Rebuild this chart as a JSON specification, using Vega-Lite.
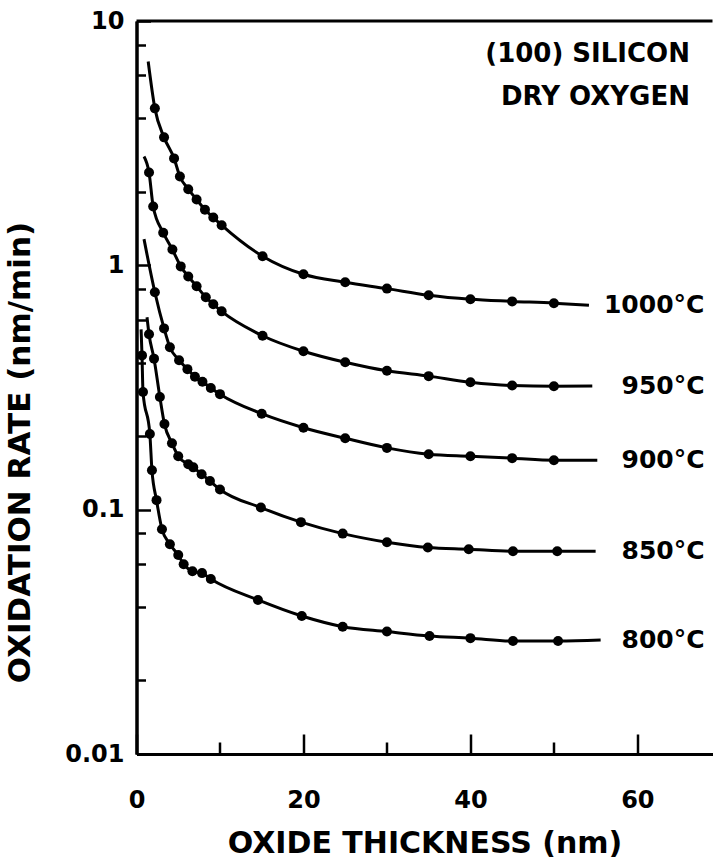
{
  "$schema": "https://vega.github.io/schema/vega-lite/v6.json",
  "width": 576,
  "height": 733,
  "autosize": {"type": "none"},
  "padding": {"left": 136.5, "top": 21, "right": 0, "bottom": 111},
  "background": "white",
  "config": {
    "view": {"stroke": null},
    "axis": {
      "grid": false,
      "domainColor": "black",
      "domainWidth": 3,
      "tickColor": "black",
      "tickWidth": 2.5,
      "labelColor": "black",
      "titleColor": "black",
      "labelFont": "DejaVu Sans",
      "titleFont": "DejaVu Sans",
      "labelFontWeight": "bold",
      "titleFontWeight": "bold",
      "labelFlush": false,
      "labelOverlap": false
    }
  },
  "datasets": {
    "curves": [
      {"T": "1000", "x": 1.4, "r": 6.83, "dot": 0},
      {"T": "1000", "x": 2.2, "r": 4.39, "dot": 1},
      {"T": "1000", "x": 3.3, "r": 3.34, "dot": 1},
      {"T": "1000", "x": 4.5, "r": 2.74, "dot": 1},
      {"T": "1000", "x": 5.2, "r": 2.31, "dot": 1},
      {"T": "1000", "x": 6.2, "r": 2.05, "dot": 1},
      {"T": "1000", "x": 7.2, "r": 1.86, "dot": 1},
      {"T": "1000", "x": 8.2, "r": 1.69, "dot": 1},
      {"T": "1000", "x": 9.2, "r": 1.57, "dot": 1},
      {"T": "1000", "x": 10.2, "r": 1.46, "dot": 1},
      {"T": "1000", "x": 15.1, "r": 1.09, "dot": 1},
      {"T": "1000", "x": 20, "r": 0.919, "dot": 1},
      {"T": "1000", "x": 25, "r": 0.852, "dot": 1},
      {"T": "1000", "x": 30, "r": 0.803, "dot": 1},
      {"T": "1000", "x": 35, "r": 0.754, "dot": 1},
      {"T": "1000", "x": 40, "r": 0.726, "dot": 1},
      {"T": "1000", "x": 45, "r": 0.712, "dot": 1},
      {"T": "1000", "x": 50, "r": 0.70, "dot": 1},
      {"T": "1000", "x": 54.2, "r": 0.686, "dot": 0},

      {"T": "950", "x": 0.9, "r": 2.79, "dot": 0},
      {"T": "950", "x": 1.5, "r": 2.40, "dot": 1},
      {"T": "950", "x": 2.0, "r": 1.74, "dot": 1},
      {"T": "950", "x": 3.2, "r": 1.36, "dot": 1},
      {"T": "950", "x": 4.3, "r": 1.16, "dot": 1},
      {"T": "950", "x": 5.3, "r": 0.99, "dot": 1},
      {"T": "950", "x": 6.2, "r": 0.90, "dot": 1},
      {"T": "950", "x": 7.2, "r": 0.821, "dot": 1},
      {"T": "950", "x": 8.3, "r": 0.740, "dot": 1},
      {"T": "950", "x": 9.2, "r": 0.693, "dot": 1},
      {"T": "950", "x": 10.2, "r": 0.648, "dot": 1},
      {"T": "950", "x": 15.1, "r": 0.515, "dot": 1},
      {"T": "950", "x": 20, "r": 0.445, "dot": 1},
      {"T": "950", "x": 25, "r": 0.401, "dot": 1},
      {"T": "950", "x": 30, "r": 0.370, "dot": 1},
      {"T": "950", "x": 35, "r": 0.352, "dot": 1},
      {"T": "950", "x": 40, "r": 0.332, "dot": 1},
      {"T": "950", "x": 45, "r": 0.322, "dot": 1},
      {"T": "950", "x": 50, "r": 0.320, "dot": 1},
      {"T": "950", "x": 54.6, "r": 0.321, "dot": 0},

      {"T": "900", "x": 0.9, "r": 1.28, "dot": 0},
      {"T": "900", "x": 2.2, "r": 0.776, "dot": 1},
      {"T": "900", "x": 3.3, "r": 0.552, "dot": 1},
      {"T": "900", "x": 4.0, "r": 0.462, "dot": 1},
      {"T": "900", "x": 5.1, "r": 0.409, "dot": 1},
      {"T": "900", "x": 6.1, "r": 0.376, "dot": 1},
      {"T": "900", "x": 7.0, "r": 0.350, "dot": 1},
      {"T": "900", "x": 7.9, "r": 0.334, "dot": 1},
      {"T": "900", "x": 8.9, "r": 0.315, "dot": 1},
      {"T": "900", "x": 10.0, "r": 0.297, "dot": 1},
      {"T": "900", "x": 15.0, "r": 0.247, "dot": 1},
      {"T": "900", "x": 20, "r": 0.2165, "dot": 1},
      {"T": "900", "x": 25, "r": 0.196, "dot": 1},
      {"T": "900", "x": 30, "r": 0.179, "dot": 1},
      {"T": "900", "x": 35, "r": 0.1686, "dot": 1},
      {"T": "900", "x": 40, "r": 0.1655, "dot": 1},
      {"T": "900", "x": 45, "r": 0.1625, "dot": 1},
      {"T": "900", "x": 50, "r": 0.1594, "dot": 1},
      {"T": "900", "x": 55.2, "r": 0.1594, "dot": 0},

      {"T": "850", "x": 1.26, "r": 0.613, "dot": 0},
      {"T": "850", "x": 1.5, "r": 0.522, "dot": 1},
      {"T": "850", "x": 2.1, "r": 0.415, "dot": 1},
      {"T": "850", "x": 2.8, "r": 0.289, "dot": 1},
      {"T": "850", "x": 3.35, "r": 0.224, "dot": 1},
      {"T": "850", "x": 4.25, "r": 0.187, "dot": 1},
      {"T": "850", "x": 5.0, "r": 0.1655, "dot": 1},
      {"T": "850", "x": 6.2, "r": 0.1535, "dot": 1},
      {"T": "850", "x": 6.8, "r": 0.149, "dot": 1},
      {"T": "850", "x": 7.8, "r": 0.1397, "dot": 1},
      {"T": "850", "x": 8.8, "r": 0.131, "dot": 1},
      {"T": "850", "x": 10.0, "r": 0.121, "dot": 1},
      {"T": "850", "x": 14.9, "r": 0.102, "dot": 1},
      {"T": "850", "x": 19.7, "r": 0.0889, "dot": 1},
      {"T": "850", "x": 24.7, "r": 0.0798, "dot": 1},
      {"T": "850", "x": 30, "r": 0.0736, "dot": 1},
      {"T": "850", "x": 34.9, "r": 0.070, "dot": 1},
      {"T": "850", "x": 39.8, "r": 0.0689, "dot": 1},
      {"T": "850", "x": 45.1, "r": 0.0676, "dot": 1},
      {"T": "850", "x": 50.4, "r": 0.0676, "dot": 1},
      {"T": "850", "x": 55, "r": 0.0676, "dot": 0},

      {"T": "800", "x": 0.55, "r": 0.547, "dot": 0},
      {"T": "800", "x": 0.66, "r": 0.428, "dot": 1},
      {"T": "800", "x": 0.78, "r": 0.303, "dot": 1},
      {"T": "800", "x": 1.6, "r": 0.204, "dot": 1},
      {"T": "800", "x": 1.85, "r": 0.145, "dot": 1},
      {"T": "800", "x": 2.4, "r": 0.1094, "dot": 1},
      {"T": "800", "x": 3.05, "r": 0.0832, "dot": 1},
      {"T": "800", "x": 4.0, "r": 0.0722, "dot": 1},
      {"T": "800", "x": 5.0, "r": 0.0652, "dot": 1},
      {"T": "800", "x": 5.65, "r": 0.0598, "dot": 1},
      {"T": "800", "x": 6.7, "r": 0.056, "dot": 1},
      {"T": "800", "x": 7.85, "r": 0.055, "dot": 1},
      {"T": "800", "x": 8.9, "r": 0.052, "dot": 1},
      {"T": "800", "x": 14.55, "r": 0.0427, "dot": 1},
      {"T": "800", "x": 19.8, "r": 0.0367, "dot": 1},
      {"T": "800", "x": 24.7, "r": 0.0332, "dot": 1},
      {"T": "800", "x": 30, "r": 0.0317, "dot": 1},
      {"T": "800", "x": 35.1, "r": 0.0304, "dot": 1},
      {"T": "800", "x": 40, "r": 0.0298, "dot": 1},
      {"T": "800", "x": 45.1, "r": 0.029, "dot": 1},
      {"T": "800", "x": 50.5, "r": 0.029, "dot": 1},
      {"T": "800", "x": 55.6, "r": 0.0293, "dot": 0}
    ],
    "labels": [
      {"label": "1000°C", "x": 56.0, "r": 0.686},
      {"label": "950°C", "x": 58.1, "r": 0.322},
      {"label": "900°C", "x": 58.1, "r": 0.159},
      {"label": "850°C", "x": 58.1, "r": 0.0676},
      {"label": "800°C", "x": 58.1, "r": 0.0294}
    ],
    "notes": [
      {"label": "(100) SILICON", "x": 66.3, "r": 7.3},
      {"label": "DRY OXYGEN", "x": 66.3, "r": 4.87}
    ]
  },
  "layer": [
    {
      "data": {"name": "curves"},
      "mark": {"type": "line", "interpolate": "monotone", "color": "black", "strokeWidth": 3},
      "encoding": {
        "x": {"field": "x", "type": "quantitative", "scale": {"domain": [0, 69], "nice": false, "zero": false},
              "axis": {"orient": "bottom", "values": [10, 30, 50], "tickSize": -12, "labels": false, "title": null}},
        "y": {"field": "r", "type": "quantitative", "scale": {"type": "log", "domain": [0.01, 10], "nice": false},
              "axis": {"orient": "left", "values": [0.02, 0.04, 0.06, 0.08, 0.2, 0.4, 0.6, 0.8, 2, 4, 6, 8], "tickSize": -9, "labels": false, "title": null}},
        "detail": {"field": "T"}
      }
    },
    {
      "data": {"name": "curves"},
      "transform": [{"filter": "datum.dot == 1"}],
      "mark": {"type": "circle", "color": "black", "size": 100, "opacity": 1},
      "encoding": {
        "x": {"field": "x", "type": "quantitative",
              "axis": {"orient": "bottom", "values": [0, 20, 40, 60], "tickSize": -20, "labelPadding": 54, "labelFontSize": 24, "format": "d",
                       "title": "OXIDE THICKNESS (nm)", "titleFontSize": 30, "titleY": 89, "titleBaseline": "middle"}},
        "y": {"field": "r", "type": "quantitative",
              "axis": {"orient": "left", "values": [0.01, 0.1, 1, 10], "tickSize": -14, "labelPadding": 26.5, "labelFontSize": 24,
                       "labelExpr": "datum.value >= 1 ? format(datum.value, 'd') : format(datum.value, '.2~f')",
                       "title": "OXIDATION RATE (nm/min)", "titleFontSize": 31, "titleX": -116.5, "titleY": 431, "titleAngle": -90, "titleBaseline": "middle", "titleAlign": "center"}}
      }
    },
    {
      "data": {"name": "labels"},
      "mark": {"type": "text", "align": "left", "baseline": "middle", "font": "DejaVu Sans", "fontWeight": "bold", "fontSize": 25, "color": "black"},
      "encoding": {
        "x": {"field": "x", "type": "quantitative", "axis": null},
        "y": {"field": "r", "type": "quantitative", "axis": null},
        "text": {"field": "label"}
      }
    },
    {
      "data": {"name": "notes"},
      "mark": {"type": "text", "align": "right", "baseline": "middle", "font": "DejaVu Sans", "fontWeight": "bold", "fontSize": 26, "color": "black"},
      "encoding": {
        "x": {"field": "x", "type": "quantitative", "axis": null},
        "y": {"field": "r", "type": "quantitative", "axis": null},
        "text": {"field": "label"}
      }
    },
    {
      "data": {"values": [{}]},
      "mark": {"type": "rule", "color": "black", "strokeWidth": 3},
      "encoding": {"y": {"datum": 10, "type": "quantitative", "axis": null}}
    }
  ],
  "resolve": {"axis": {"x": "independent", "y": "independent"}}
}
